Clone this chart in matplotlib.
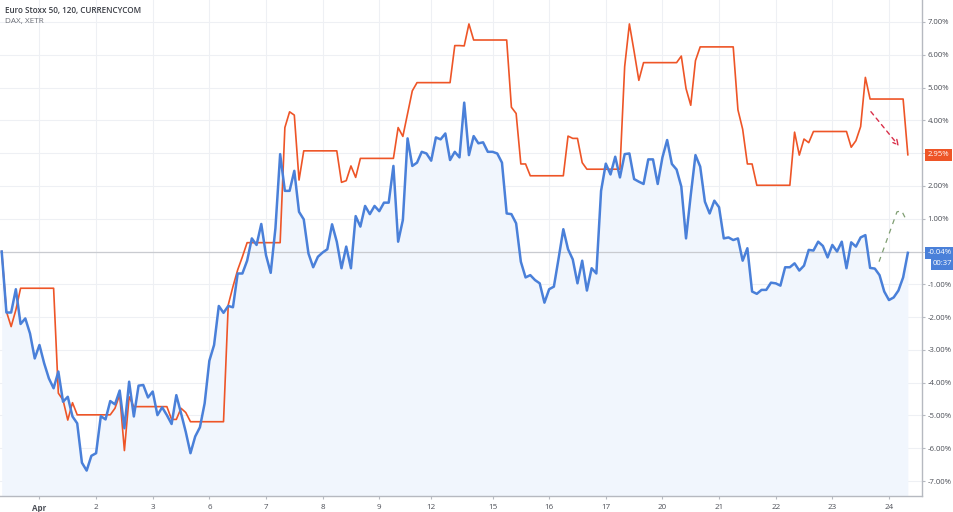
import numpy as np
import matplotlib
matplotlib.use("Agg")
import matplotlib.pyplot as plt

# Euro Stoxx 50 (CURRENCYCOM, 120 min bars), % change from first bar
stoxx = [
    0.00, -1.86, -1.86, -1.15, -2.21, -2.04, -2.50, -3.26, -2.85, -3.41,
    -3.87, -4.17, -3.66, -4.58, -4.43, -5.03, -5.24, -6.44, -6.68, -6.23,
    -6.15, -5.02, -5.12, -4.56, -4.66, -4.24, -5.39, -3.97, -5.03, -4.09,
    -4.07, -4.45, -4.27, -4.99, -4.75, -4.99, -5.26, -4.38, -4.93, -5.50,
    -6.15, -5.64, -5.36, -4.63, -3.33, -2.85, -1.66, -1.87, -1.66, -1.70,
    -0.67, -0.67, -0.28, 0.40, 0.20, 0.84, -0.11, -0.65, 0.71, 2.97,
    1.85, 1.85, 2.46, 1.21, 0.98, -0.06, -0.48, -0.16, -0.03, 0.07,
    0.83, 0.30, -0.51, 0.15, -0.51, 1.08, 0.76, 1.39, 1.14, 1.39,
    1.23, 1.49, 1.49, 2.61, 0.30, 0.96, 3.45, 2.61, 2.71, 3.04,
    2.99, 2.77, 3.48, 3.42, 3.60, 2.79, 3.04, 2.87, 4.54, 2.94,
    3.52, 3.30, 3.33, 3.04, 3.04, 2.99, 2.71, 1.16, 1.14, 0.86,
    -0.31, -0.79, -0.72, -0.87, -0.97, -1.56, -1.15, -1.07, -0.21, 0.68,
    0.07, -0.24, -0.97, -0.28, -1.19, -0.51, -0.67, 1.85, 2.68, 2.35,
    2.89, 2.26, 2.97, 2.99, 2.21, 2.13, 2.06, 2.81, 2.81, 2.06,
    2.87, 3.40, 2.67, 2.50, 1.98, 0.40, 1.72, 2.94, 2.59, 1.52,
    1.16, 1.55, 1.35, 0.40, 0.43, 0.35, 0.40, -0.28, 0.10, -1.22,
    -1.29, -1.17, -1.17, -0.95, -0.97, -1.04, -0.48, -0.48, -0.36, -0.58,
    -0.43, 0.05, 0.03, 0.30, 0.17, -0.18, 0.20, 0.00, 0.30, -0.51,
    0.28, 0.15, 0.43, 0.50, -0.50, -0.52, -0.72, -1.22, -1.48, -1.40,
    -1.19, -0.79, -0.04,
]

# DAX (XETR), held flat outside trading hours
dax = [
    0.00, -1.83, -2.29, -1.78, -1.12, -1.12, -1.12, -1.12, -1.12, -1.12,
    -1.12, -1.12, -4.32, -4.53, -5.14, -4.61, -4.98, -4.98, -4.98, -4.98,
    -4.98, -4.98, -4.98, -4.98, -4.78, -4.37, -6.07, -4.43, -4.73, -4.73,
    -4.73, -4.73, -4.73, -4.73, -4.73, -4.73, -5.12, -5.12, -4.78, -4.91,
    -5.19, -5.19, -5.19, -5.19, -5.19, -5.19, -5.19, -5.19, -1.63, -1.07,
    -0.56, -0.16, 0.27, 0.27, 0.27, 0.27, 0.27, 0.27, 0.27, 0.27,
    3.78, 4.26, 4.16, 2.18, 3.07, 3.07, 3.07, 3.07, 3.07, 3.07,
    3.07, 3.07, 2.11, 2.16, 2.61, 2.26, 2.84, 2.84, 2.84, 2.84,
    2.84, 2.84, 2.84, 2.84, 3.78, 3.51, 4.21, 4.90, 5.15, 5.15,
    5.15, 5.15, 5.15, 5.15, 5.15, 5.15, 6.28, 6.28, 6.27, 6.94,
    6.45, 6.45, 6.45, 6.45, 6.45, 6.45, 6.45, 6.45, 4.40, 4.21,
    2.67, 2.67, 2.31, 2.31, 2.31, 2.31, 2.31, 2.31, 2.31, 2.31,
    3.52, 3.45, 3.45, 2.71, 2.51, 2.51, 2.51, 2.51, 2.51, 2.51,
    2.51, 2.51, 5.64, 6.94, 6.10, 5.22, 5.76, 5.76, 5.76, 5.76,
    5.76, 5.76, 5.76, 5.76, 5.96, 4.97, 4.46, 5.82, 6.24, 6.24,
    6.24, 6.24, 6.24, 6.24, 6.24, 6.24, 4.32, 3.73, 2.67, 2.67,
    2.02, 2.02, 2.02, 2.02, 2.02, 2.02, 2.02, 2.02, 3.64, 2.94,
    3.43, 3.32, 3.66, 3.66, 3.66, 3.66, 3.66, 3.66, 3.66, 3.66,
    3.18, 3.38, 3.81, 5.31, 4.65, 4.65, 4.65, 4.65, 4.65, 4.65,
    4.65, 4.65, 2.95,
]

# day labels and the bar where each day starts
day_labels = ["Apr", "2", "3", "6", "7", "8", "9", "12", "15", "16",
              "17", "20", "21", "22", "23", "24"]
day_bars = [8, 20, 32, 44, 56, 68, 80, 91, 104, 116, 128, 140, 152, 164, 176, 188]

pct_ticks = [-7, -6, -5, -4, -3, -2, -1, 1, 2, 4, 5, 6, 7]

# drawn projection lines (bar, %)
red_proj_bar = [183.8, 190.5]
red_proj_val = [4.33, 3.15]
green_proj_bar = [185.9, 189.7, 190.7, 191.6]
green_proj_val = [-0.31, 1.21, 1.24, 0.98]

BLUE = "#4a80d9"
RED = "#ee5527"
GRID = "#eef0f4"
TXT = "#4c4f57"

plt.rcParams["font.family"] = ["Open Sans", "DejaVu Sans"]

fig = plt.figure(figsize=(9.54, 5.12), dpi=100)
ax = fig.add_axes([0.0, 16.5 / 512, 922 / 954, 1 - 16.5 / 512])

x = np.arange(len(stoxx))
ymin, ymax = -7.44, 7.67

ax.fill_between(x, stoxx, ymin, color="#f1f6fd", lw=0, zorder=1)
ax.plot(x, dax, color=RED, lw=1.2, zorder=3)
ax.plot(x, stoxx, color=BLUE, lw=1.8, zorder=4)

ax.axhline(0, color="#c9cbd0", lw=0.9, zorder=2)

ax.annotate("", xy=(red_proj_bar[1], red_proj_val[1]),
            xytext=(red_proj_bar[0], red_proj_val[0]),
            arrowprops=dict(arrowstyle="->", color="#d9304a", lw=1.0,
                            linestyle=(0, (3, 3)), mutation_scale=9),
            zorder=5)
ax.plot(green_proj_bar, green_proj_val, color="#7f9e72", lw=0.9,
        ls=(0, (4, 4)), zorder=5)

ax.set_xlim(-0.36, 195.0)
ax.set_ylim(ymin, ymax)

ax.set_xticks(day_bars)
ax.set_xticklabels(day_labels)
ax.set_yticks(pct_ticks)
ax.set_yticklabels([f"{v:.2f}%" for v in pct_ticks])
ax.yaxis.tick_right()
ax.set_yticks([0, 3], minor=True)

ax.grid(True, which="both", color=GRID, lw=0.8, zorder=0)
ax.set_axisbelow(True)

for s in ["left", "top"]:
    ax.spines[s].set_visible(False)
for s in ["right", "bottom"]:
    ax.spines[s].set_color("#b6b9c0")
    ax.spines[s].set_linewidth(1.0)

ax.tick_params(axis="x", length=2, color="#b6b9c0", labelsize=5.8,
               labelcolor=TXT, pad=4)
ax.tick_params(axis="y", which="both", length=2, color="#b6b9c0",
               labelsize=5.6, labelcolor=TXT, pad=2)
ax.get_xticklabels()[0].set_fontweight("bold")

# last value labels on the price scale
tag = dict(transform=ax.transAxes, ha="left", va="center", fontsize=5.6,
           color="white", clip_on=False, zorder=10)
ax.text(1.006, (dax[-1] - ymin) / (ymax - ymin), f"{dax[-1]:.2f}%",
        bbox=dict(boxstyle="square,pad=0.35", fc=RED, ec="none"), **tag)
ax.text(1.006, (stoxx[-1] - ymin) / (ymax - ymin), f"{stoxx[-1]:.2f}%",
        bbox=dict(boxstyle="square,pad=0.3", fc=BLUE, ec="none"), **tag)
ax.text(1.012, (stoxx[-1] - 0.34 - ymin) / (ymax - ymin), "00:37",
        bbox=dict(boxstyle="square,pad=0.3", fc=BLUE, ec="none"), **tag)

fig.text(5 / 954, 1 - 10 / 512, "Euro Stoxx 50, 120, CURRENCYCOM",
         fontsize=5.9, fontweight="semibold", color="#3a3d45", va="center")
fig.text(5 / 954, 1 - 21 / 512, "DAX, XETR", fontsize=5.9,
         color="#6a6d75", va="center")

fig.savefig("out.png", dpi=100)
